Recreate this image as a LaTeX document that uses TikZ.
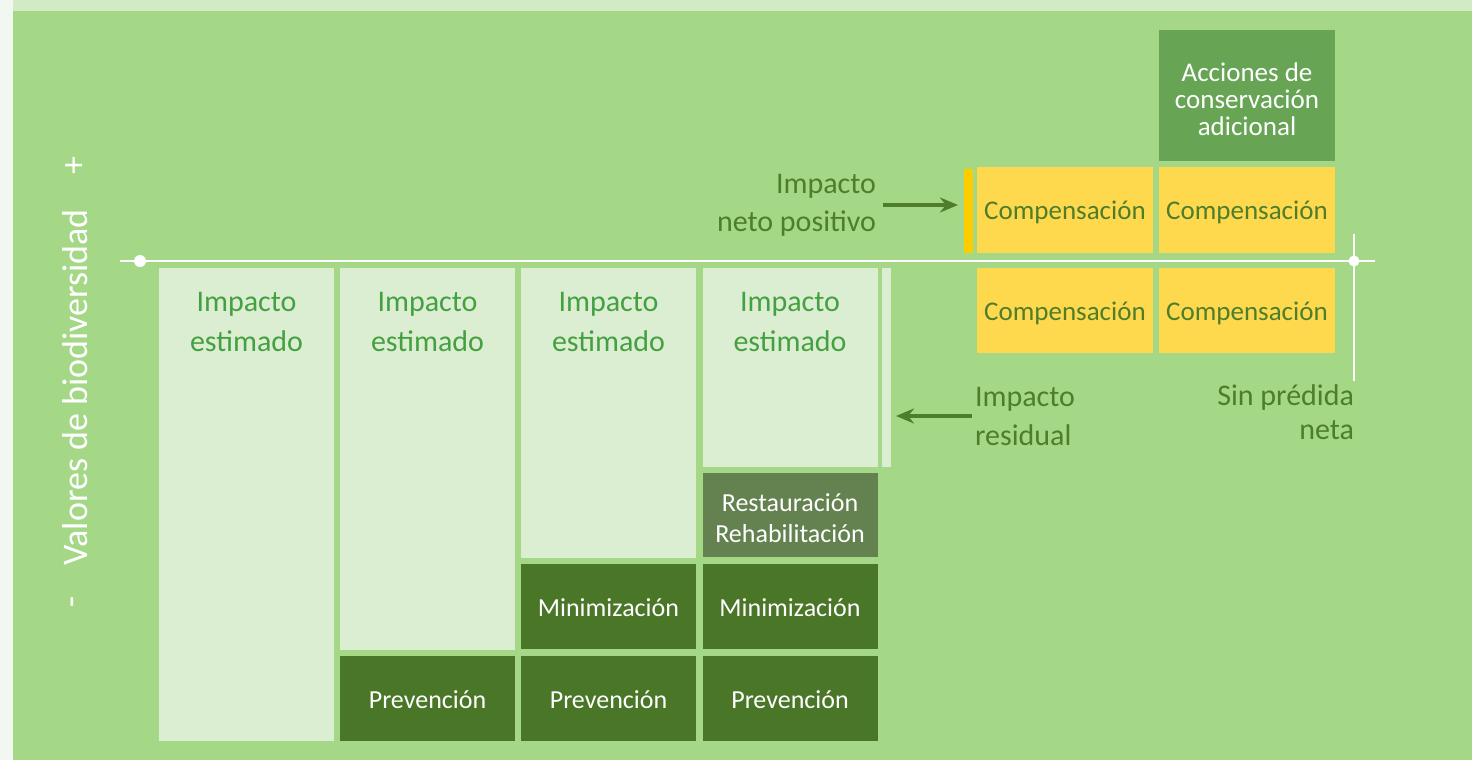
\documentclass[tikz,border=0pt]{standalone}
\usepackage{fontspec}
\setmainfont{Carlito}
\usetikzlibrary{arrows.meta}
\definecolor{bggreen}{RGB}{165,216,134}
\definecolor{topstrip}{RGB}{211,235,197}
\definecolor{leftstrip}{RGB}{243,247,241}
\definecolor{lightbox}{RGB}{219,238,210}
\definecolor{impgreen}{RGB}{68,160,64}
\definecolor{darkgreen}{RGB}{74,118,40}
\definecolor{restgreen}{RGB}{100,129,80}
\definecolor{extragreen}{RGB}{103,165,85}
\definecolor{yellowbox}{RGB}{255,217,77}
\definecolor{yellowbar}{RGB}{255,204,0}
\definecolor{labelgreen}{RGB}{78,125,43}
\begin{document}
\begin{tikzpicture}
	[x=1pt,y=-1pt,
	every node/.style={inner sep=0pt,outer sep=0pt},
	impbox/.style={fill=lightbox,minimum width=175pt},
	imptext/.style={text=impgreen,font=\fontsize{30}{40}\selectfont,align=center,anchor=north},
	mitbox/.style={fill=darkgreen,text=white,minimum width=175pt,minimum height=85pt,text height=19pt,text depth=0pt,font=\fontsize{26}{31}\selectfont,align=center},
	compbox/.style={fill=yellowbox,text=labelgreen,minimum width=176pt,minimum height=86pt,text height=19pt,text depth=0pt,font=\fontsize{27}{32}\selectfont},
	lbl/.style={text=labelgreen,font=\fontsize{30}{38}\selectfont},
	axislbl/.style={rotate=90,text=white,font=\fontsize{36}{40}\selectfont},
	arr/.style={draw=labelgreen,line width=3.3pt,-{Stealth[length=18pt,width=15pt]}},
	axis/.style={draw=white,line width=1.8pt},
	dot/.style={circle,fill=white,minimum size=12pt}]
	\useasboundingbox (0,0) rectangle (1472,760);
	% background
	\fill[leftstrip] (0,0) rectangle (13,760);
	\fill[topstrip] (13,0) rectangle (1472,11);
	\fill[bggreen] (13,11) rectangle (1472,760);

	% axis
	\coordinate (axL) at (120,261);
	\coordinate (axR) at (1375,261);
	\coordinate (vtop) at (1354,234);
	\coordinate (vbot) at (1354,381);
	\path[axis] (axL) -- (axR) (vtop) -- (vbot);
	\node[dot] (d0) at (140,261) {};
	\node[dot,minimum size=11pt] (d1) at (1354,261) {};
	\node[axislbl] (yaxis) at (75,387.5) {Valores de biodiversidad};
	\node[axislbl] (yplus) at (76,166) {+};
	\node[axislbl] (yminus) at (77,602) {-};

	% estimated impact
	\node[impbox,minimum height=473pt] (e1) at (246.5,504.5) {};
	\node[impbox,minimum height=382pt] (e2) at (427.5,459) {};
	\node[impbox,minimum height=290pt] (e3) at (608.5,413) {};
	\node[impbox,minimum height=199pt] (e4) at (790,367.5) {};
	\node[imptext] (t1) at ([yshift=-24pt]e1.north) {Impacto\\estimado};
	\node[imptext] (t2) at ([yshift=-24pt]e2.north) {Impacto\\estimado};
	\node[imptext] (t3) at ([yshift=-24pt]e3.north) {Impacto\\estimado};
	\node[imptext] (t4) at ([yshift=-24pt]e4.north) {Impacto\\estimado};
	\node[fill=lightbox,minimum width=9pt,minimum height=199pt] (resstrip) at (886.5,367.5) {};

	% mitigation
	\node[mitbox] (p2) at (427.5,698.5) {Prevención};
	\node[mitbox] (p3) at (608.5,698.5) {Prevención};
	\node[mitbox] (p4) at (790,698.5) {Prevención};
	\node[mitbox] (m3) at (608.5,606.5) {Minimización};
	\node[mitbox] (m4) at (790,606.5) {Minimización};
	\node[mitbox,fill=restgreen,minimum height=84pt,text height=54pt] (r4) at (790,515) {Restauración\\Rehabilitación};

	% compensation
	\node[fill=yellowbar,minimum width=9pt,minimum height=84pt] (bar) at (968.5,211) {};
	\node[compbox] (ca) at (1065,210) {Compensación};
	\node[compbox] (cb) at (1247,210) {Compensación};
	\node[compbox,minimum height=85pt] (cc) at (1065,310.5) {Compensación};
	\node[compbox,minimum height=85pt] (cd) at (1247,310.5) {Compensación};
	\node[mitbox,fill=extragreen,minimum width=176pt,minimum height=131pt,text height=79pt,font=\fontsize{27}{27}\selectfont] (acc) at (1247,95.5) {Acciones de\\conservación\\adicional};

	% labels
	\node[lbl,align=right,anchor=east] (netpos) at (876,205) {Impacto\\neto positivo};
	\node[lbl,align=left,anchor=west,font=\fontsize{30}{39}\selectfont] (resid) at (975,416) {Impacto\\residual};
	\node[lbl,align=right,anchor=east,font=\fontsize{30}{34}\selectfont] (snn) at (1354,412) {Sin prédida\\neta};
	\draw[arr] ([xshift=7pt]netpos.east) -- ([xshift=-6pt]bar.west |- netpos.east);
	\draw[arr] ([xshift=-3pt]resid.west) -- ([xshift=5pt]resstrip.east |- resid.west);
\end{tikzpicture}
\end{document}
